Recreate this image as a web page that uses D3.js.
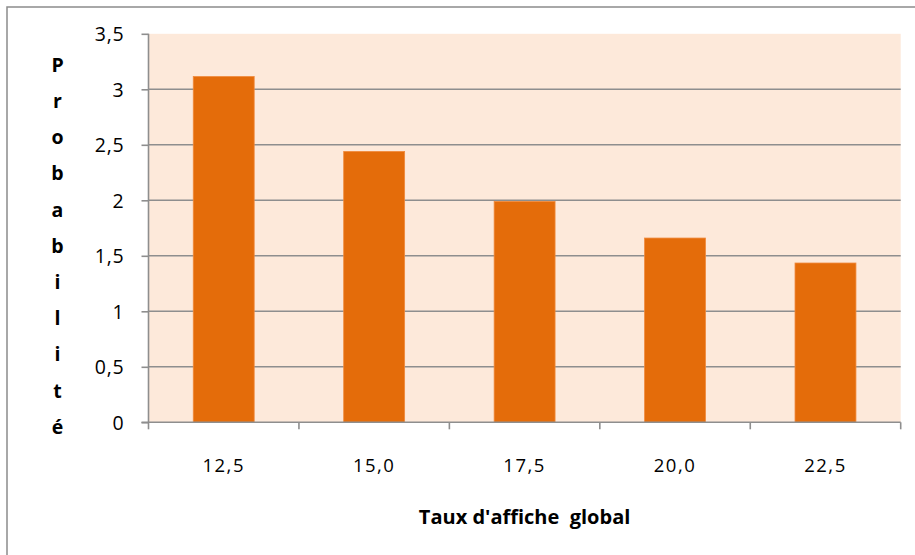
<!DOCTYPE html>
<html>
<head>
<meta charset="utf-8">
<script src="https://cdn.jsdelivr.net/npm/d3@7"></script>
<style>
  html, body { margin: 0; padding: 0; background: #ffffff; }
  svg { display: block; }
  text { font-family: "Open Sans", "Liberation Sans", sans-serif; fill: #000; }
</style>
</head>
<body>
<svg id="chart" width="915" height="555"></svg>
<script>
// Probabilité par taux d'affiche global
const categories = ["12,5", "15,0", "17,5", "20,0", "22,5"];
const values = [3.115, 2.44, 1.99, 1.66, 1.435];
const yTicks = [0, 0.5, 1, 1.5, 2, 2.5, 3, 3.5];
const yTitle = "Probabilité";
const xTitle = "Taux d'affiche  global";

const svg = d3.select("#chart");
const W = 915, H = 555;
const plot = { left: 148.5, right: 900.7, top: 33.8, bottom: 422.3 };

// outer chart frame
svg.append("rect")
  .attr("x", 7).attr("y", 7)
  .attr("width", W + 20).attr("height", H + 20)
  .attr("fill", "#ffffff")
  .attr("stroke", "#8c8c8c").attr("stroke-width", 1.5);

const x = d3.scaleBand().domain(categories).range([plot.left, plot.right]).padding(0);
const y = d3.scaleLinear().domain([0, 3.5]).range([plot.bottom, plot.top]);

// plot background
svg.append("rect")
  .attr("x", plot.left).attr("y", plot.top)
  .attr("width", plot.right - plot.left).attr("height", plot.bottom - plot.top)
  .attr("fill", "#FDE9DA");

// horizontal gridlines
svg.append("g").selectAll("line")
  .data(yTicks.filter(t => t > 0 && t < 3.5))
  .join("line")
  .attr("x1", plot.left).attr("x2", plot.right)
  .attr("y1", d => y(d)).attr("y2", d => y(d))
  .attr("stroke", "#8e8e8e").attr("stroke-width", 1.6);

// bars
const barW = x.bandwidth() * 0.405;
svg.append("g").selectAll("rect")
  .data(values)
  .join("rect")
  .attr("x", (d, i) => x(categories[i]) + (x.bandwidth() - barW) / 2)
  .attr("y", d => y(d))
  .attr("width", barW)
  .attr("height", d => y(0) - y(d))
  .attr("fill", "#E46C0A")
  .attr("stroke", "#F08A3C").attr("stroke-width", 0.8);

// y axis
const yAxis = d3.axisLeft(y).tickValues(yTicks)
  .tickSize(7).tickPadding(17)
  .tickFormat(d => d3.format("")(d).replace(".", ","));
const gy = svg.append("g").attr("transform", `translate(${plot.left},0)`).call(yAxis);
gy.select(".domain").attr("stroke", "#8e8e8e").attr("stroke-width", 1.6).attr("d", `M0,${plot.top}V${plot.bottom}`);
gy.selectAll(".tick line").attr("stroke", "#8e8e8e").attr("stroke-width", 1.6);
gy.selectAll(".tick text").attr("font-size", 19.5).attr("letter-spacing", 0.8).attr("fill", "#000")
  .attr("dy", "0.36em")
  .style("font-family", "'Open Sans', sans-serif");

// x axis
const xAxis = d3.axisBottom(x).tickSize(0).tickPadding(0);
const gx = svg.append("g").attr("transform", `translate(0,${plot.bottom})`).call(xAxis);
gx.select(".domain").remove();
gx.selectAll(".tick text").attr("font-size", 18.5).attr("letter-spacing", 1.5)
  .attr("dy", 0).attr("y", 50).attr("fill", "#000")
  .style("font-family", "'Open Sans', sans-serif");
// x tick marks at band boundaries
const bounds = categories.map(c => x(c)).concat([x(categories[categories.length - 1]) + x.bandwidth()]);
svg.append("g").selectAll("line")
  .data(bounds).join("line")
  .attr("x1", d => d).attr("x2", d => d)
  .attr("y1", plot.bottom).attr("y2", plot.bottom + 7)
  .attr("stroke", "#8e8e8e").attr("stroke-width", 1.6);
svg.append("line")
  .attr("x1", plot.left - 7).attr("x2", plot.right)
  .attr("y1", plot.bottom).attr("y2", plot.bottom)
  .attr("stroke", "#8e8e8e").attr("stroke-width", 1.6);

// vertical y title, one letter per line
svg.append("g").selectAll("text")
  .data(yTitle.split(""))
  .join("text")
  .attr("x", 57.5)
  .attr("y", (d, i) => 65 + i * 36.2)
  .attr("dy", "0.35em")
  .attr("text-anchor", "middle")
  .attr("font-size", 19.5).attr("font-weight", "bold")
  .text(d => d);

// x title
svg.append("text")
  .attr("x", (plot.left + plot.right) / 2)
  .attr("y", 524)
  .attr("text-anchor", "middle")
  .attr("font-size", 20).attr("font-weight", "bold")
  .attr("xml:space", "preserve")
  .style("white-space", "pre")
  .text(xTitle);
</script>
</body>
</html>
